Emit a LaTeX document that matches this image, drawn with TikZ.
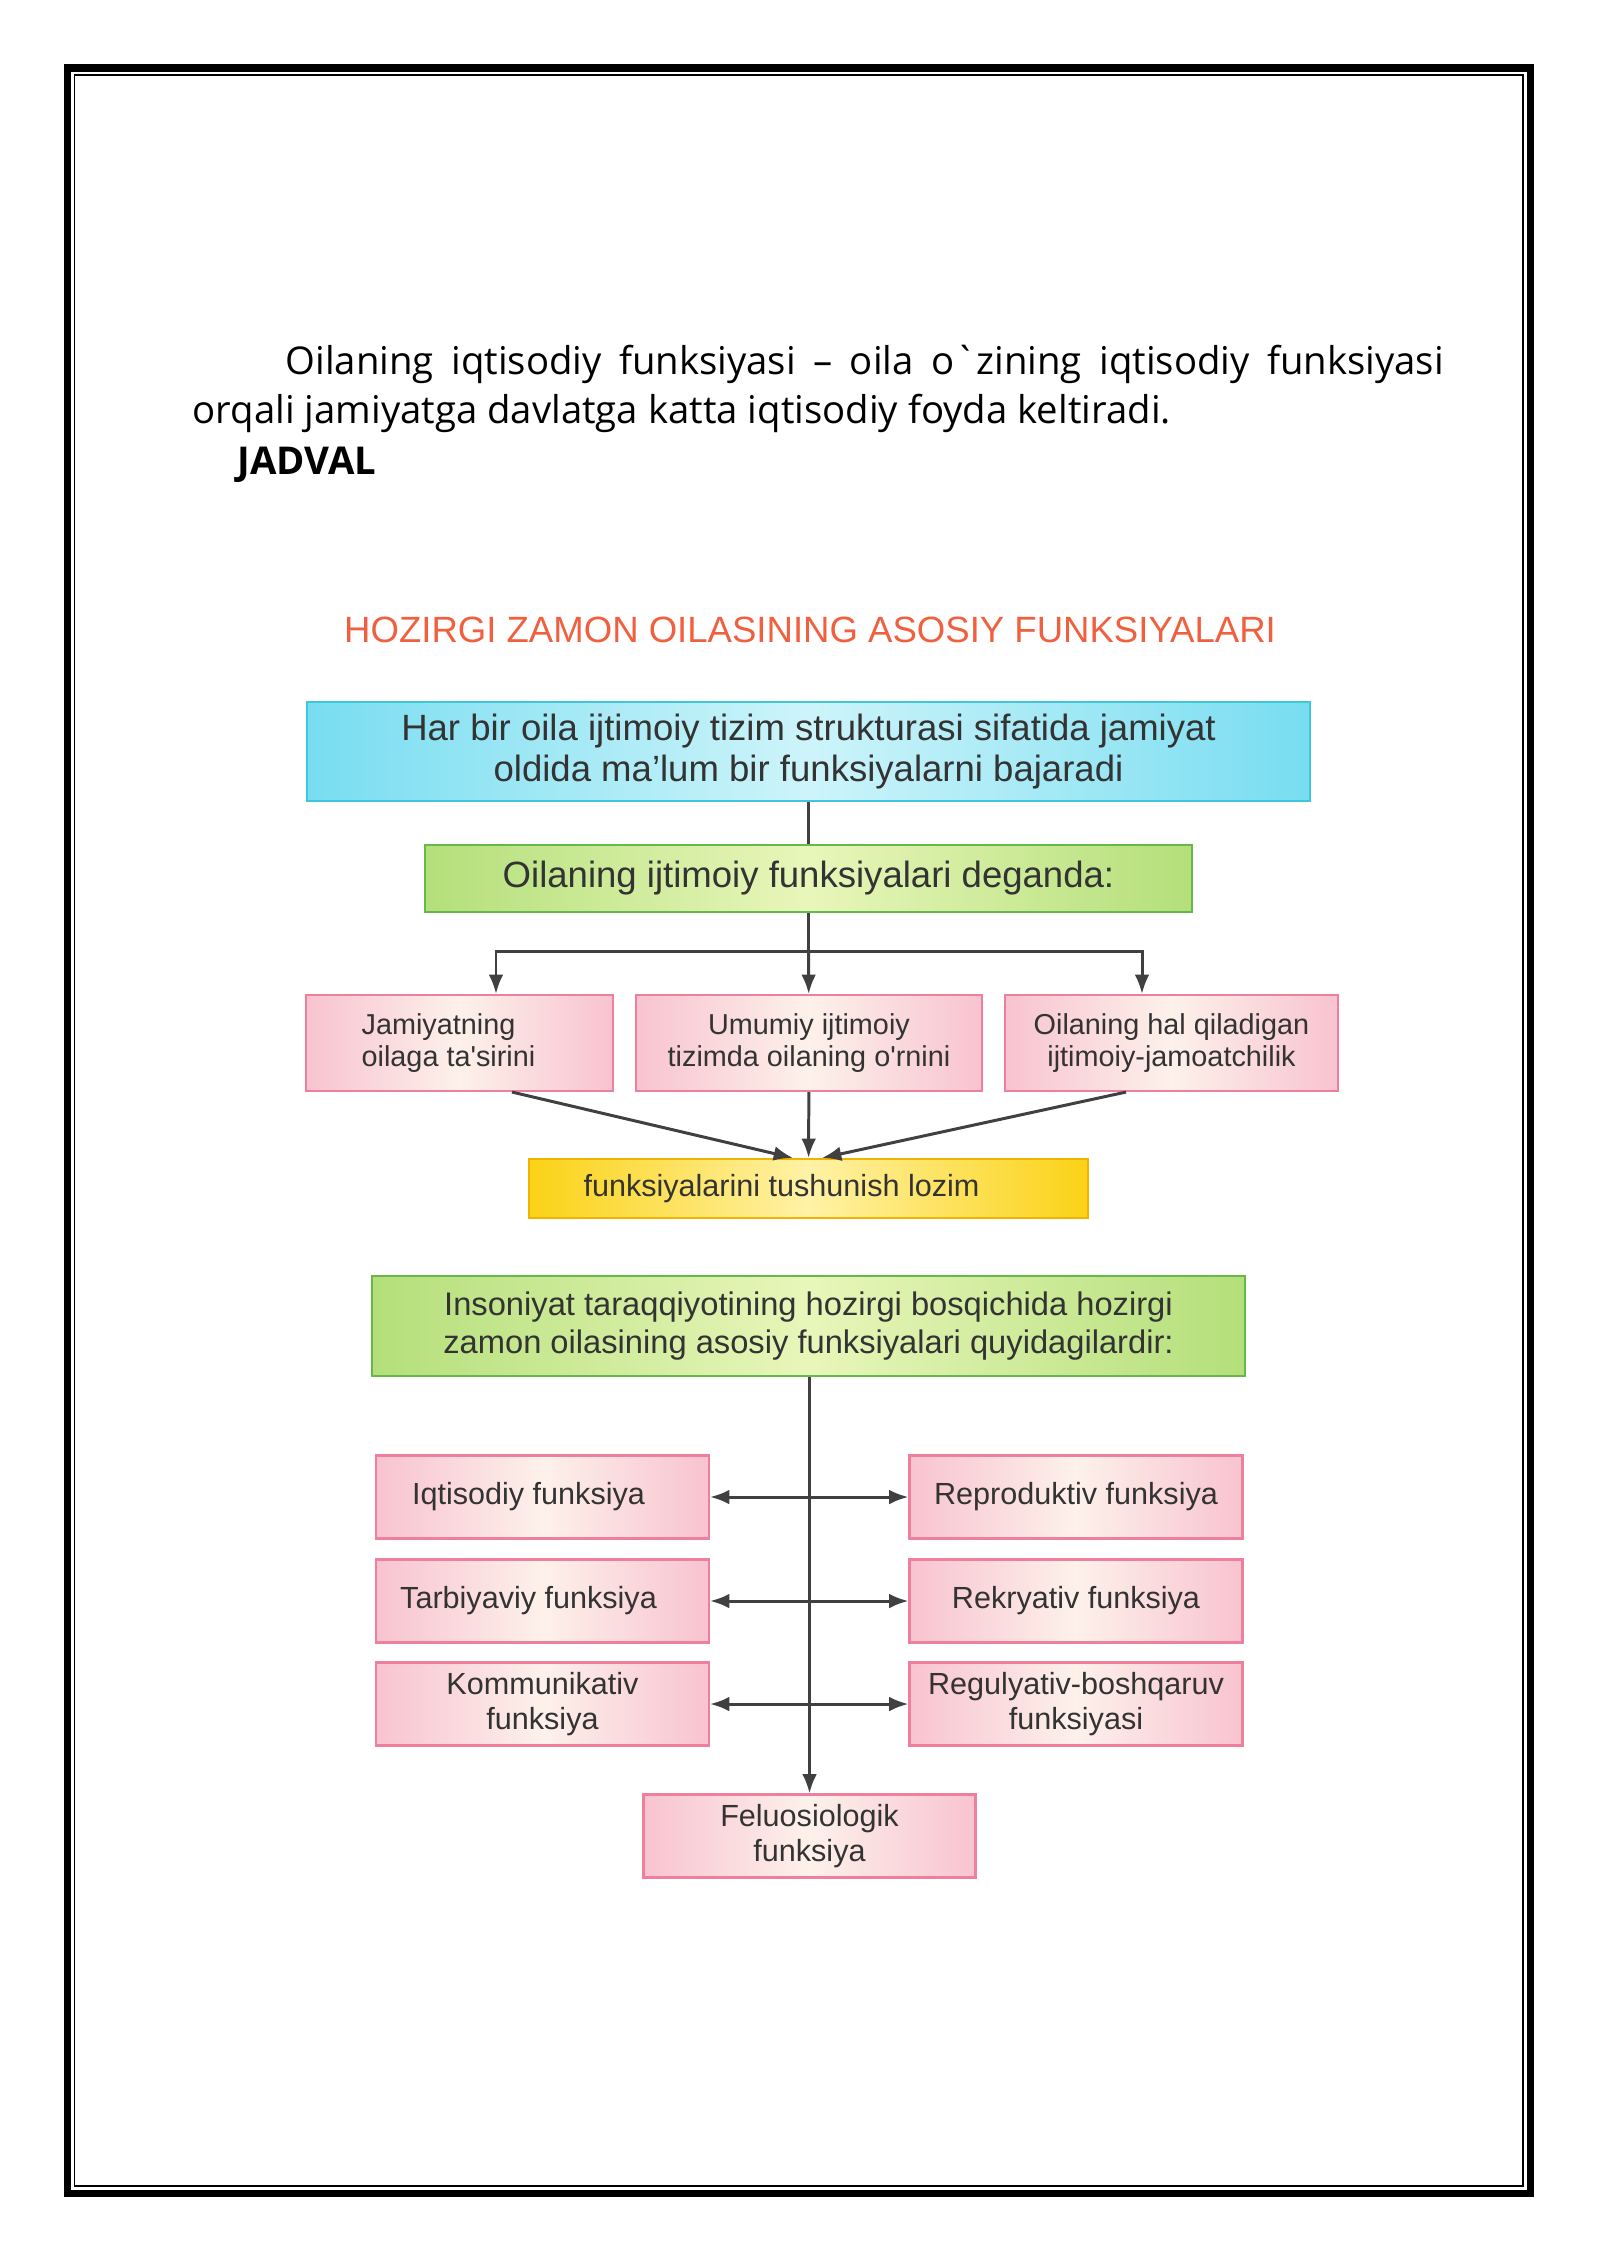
\documentclass[tikz,border=0pt]{standalone}
\usepackage{fontspec}
\newfontfamily\bodyfont{Open Sans}[Ligatures=TeXOff]
\newfontfamily\diafont{Liberation Sans}[Ligatures=TeXOff]
\usetikzlibrary{positioning, arrows.meta}

\definecolor{inkgray}{HTML}{333333}
\definecolor{linegray}{HTML}{404040}
\definecolor{titlered}{HTML}{F0603F}
\definecolor{cyanside}{HTML}{78DDF1}
\definecolor{cyanmid}{HTML}{CDF4FA}
\definecolor{cyanedge}{HTML}{3EC6DA}
\definecolor{greenside}{HTML}{B4DF7A}
\definecolor{greenmid}{HTML}{E8F6BA}
\definecolor{greenedge}{HTML}{66B84A}
\definecolor{pinkside}{HTML}{F8C3D0}
\definecolor{pinkmid}{HTML}{FDF1EA}
\definecolor{pinkedge}{HTML}{EE7F9D}
\definecolor{yellowside}{HTML}{FBD216}
\definecolor{yellowmid}{HTML}{FFF2A6}
\definecolor{yellowedge}{HTML}{F2B200}

\begin{document}
\begin{tikzpicture}[
  box/.style={shape=rectangle, line width=0.6pt, inner sep=0pt, align=center, text=inkgray},
  cyanbox/.style={box, draw=cyanedge, left color=cyanside, right color=cyanside, middle color=cyanmid},
  greenbox/.style={box, draw=greenedge, left color=greenside, right color=greenside, middle color=greenmid},
  pinkbox/.style={box, draw=pinkedge, left color=pinkside, right color=pinkside, middle color=pinkmid},
  yellowbox/.style={box, draw=yellowedge, left color=yellowside, right color=yellowside, middle color=yellowmid},
  link/.style={draw=linegray, line width=0.85pt},
  arrowto/.style={-{Latex[length=5.5pt,width=4.2pt]}},
  arrowboth/.style={{Latex[length=5.5pt,width=4.2pt]}-{Latex[length=5.5pt,width=4.2pt]}}
]
\useasboundingbox (0,0) rectangle (16,-22.62);
% page frame
\draw[line width=2pt] (0.675,-0.68) rectangle (15.305,-21.93);
\draw[line width=0.55pt] (0.745,-0.75) rectangle (15.23,-21.86);

% text above the table
\node[anchor=base west, inner sep=0pt, font=\bodyfont\fontsize{10.9}{13}\selectfont] (para1) at (2.85,-3.74)
  {\makebox[11.58cm][s]{Oilaning iqtisodiy funksiyasi – oila o`zining iqtisodiy funksiyasi}};
\node[anchor=base west, inner sep=0pt, font=\bodyfont\fontsize{10.9}{13}\selectfont] (para2) at (1.92,-4.23)
  {orqali jamiyatga davlatga katta iqtisodiy foyda keltiradi.};
\node[anchor=base west, inner sep=0pt, font=\bodyfont\bfseries\fontsize{10.9}{13}\selectfont] (jadval) at (2.37,-4.74) {JADVAL};

% title
\node[text=titlered, font=\diafont\fontsize{10.4}{12}\selectfont] (title) at (8.1,-6.30) {HOZIRGI ZAMON OILASINING ASOSIY FUNKSIYALARI};

% upper part
\node[cyanbox, minimum width=10.03cm, minimum height=0.99cm, font=\diafont\fontsize{10.4}{11.5}\selectfont] (har) at (8.085,-7.515)
  {Har bir oila ijtimoiy tizim strukturasi sifatida jamiyat\\oldida ma’lum bir funksiyalarni bajaradi};
\node[greenbox, minimum width=7.67cm, minimum height=0.67cm, font=\diafont\fontsize{10.4}{11.5}\selectfont] (deganda) at (8.085,-8.785)
  {Oilaning ijtimoiy funksiyalari deganda:};
\node[pinkbox, minimum width=3.07cm, minimum height=0.96cm, align=left, font=\diafont\fontsize{8.2}{9.2}\selectfont] (jam) at (4.595,-10.43)
  {Jamiyatning\\oilaga ta'sirini\hspace*{0.22cm}};
\node[pinkbox, minimum width=3.46cm, minimum height=0.96cm, font=\diafont\fontsize{8.2}{9.2}\selectfont] (umum) at (8.09,-10.43)
  {Umumiy ijtimoiy\\tizimda oilaning o'rnini};
\node[pinkbox, minimum width=3.33cm, minimum height=0.96cm, font=\diafont\fontsize{8.2}{9.2}\selectfont] (hal) at (11.715,-10.43)
  {Oilaning hal qiladigan\\ijtimoiy-jamoatchilik};
\node[yellowbox, minimum width=5.59cm, minimum height=0.59cm, font=\diafont\fontsize{8.7}{10}\selectfont] (lozim) at (8.085,-11.885)
  {funksiyalarini tushunish lozim\hspace*{0.54cm}};

\coordinate (split) at (8.085,-9.51);
\draw[link] (har) -- (deganda);
\draw[link] (deganda) -- (split);
\draw[link, arrowto] (split) -| ([xshift=3.65mm]jam.north);
\draw[link, arrowto] (split) -| ([xshift=-2.95mm]hal.north);
\draw[link, arrowto] (split) -- (umum);
\draw[link, arrowto] ([xshift=5.25mm]jam.south) -- ([xshift=-1.55mm]lozim.north);
\draw[link, arrowto] (umum) -- (lozim);
\draw[link, arrowto] ([xshift=-4.55mm]hal.south) -- ([xshift=1.35mm]lozim.north);

% lower part
\node[greenbox, minimum width=8.73cm, minimum height=1.0cm, font=\diafont\fontsize{9.3}{10.8}\selectfont] (insoniyat) at (8.085,-13.26)
  {Insoniyat taraqqiyotining hozirgi bosqichida hozirgi\\zamon oilasining asosiy funksiyalari quyidagilardir:};
\node[pinkbox, minimum width=3.33cm, minimum height=0.83cm, font=\diafont\fontsize{8.7}{9.8}\selectfont] (iqt) at (5.425,-14.97) {Iqtisodiy funksiya\hspace*{0.28cm}};
\node[pinkbox, minimum width=3.33cm, minimum height=0.83cm, font=\diafont\fontsize{8.7}{9.8}\selectfont] (tarb) at (5.425,-16.01) {Tarbiyaviy funksiya\hspace*{0.28cm}};
\node[pinkbox, minimum width=3.33cm, minimum height=0.83cm, font=\diafont\fontsize{8.7}{9.8}\selectfont] (komm) at (5.425,-17.04) {Kommunikativ\\funksiya};
\node[pinkbox, minimum width=3.33cm, minimum height=0.83cm, font=\diafont\fontsize{8.7}{9.8}\selectfont] (repr) at (10.76,-14.97) {Reproduktiv funksiya};
\node[pinkbox, minimum width=3.33cm, minimum height=0.83cm, font=\diafont\fontsize{8.7}{9.8}\selectfont] (rekr) at (10.76,-16.01) {Rekryativ funksiya};
\node[pinkbox, minimum width=3.33cm, minimum height=0.83cm, font=\diafont\fontsize{8.7}{9.8}\selectfont] (regul) at (10.76,-17.04) {Regulyativ-boshqaruv\\funksiyasi};
\node[pinkbox, minimum width=3.32cm, minimum height=0.83cm, font=\diafont\fontsize{8.7}{9.8}\selectfont] (fel) at (8.095,-18.36) {Feluosiologik\\funksiya};

\draw[link, arrowto] (insoniyat.south -| fel.north) -- (fel.north);
\draw[link, arrowboth] (iqt) -- (repr);
\draw[link, arrowboth] (tarb) -- (rekr);
\draw[link, arrowboth] (komm) -- (regul);
\end{tikzpicture}
\end{document}
